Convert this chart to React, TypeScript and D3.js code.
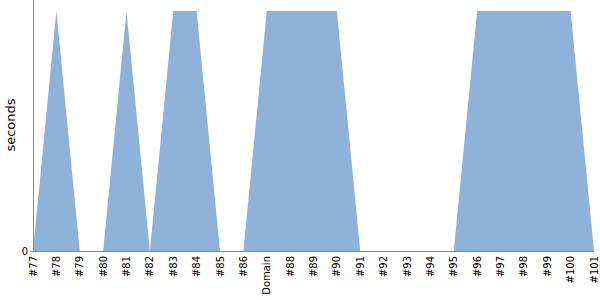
import React from "react";
import * as d3 from "d3";

const categories = ["#77","#78","#79","#80","#81","#82","#83","#84","#85","#86","Domain","#88","#89","#90","#91","#92","#93","#94","#95","#96","#97","#98","#99","#100","#101"];
const values = [0,1,0,0,1,0,1,1,0,0,1,1,1,1,0,0,0,0,0,1,1,1,1,1,0];
const yTicks = [0];

const W = 600, H = 300;
const left = 33, right = 594, top = 0, bottom = 251;

export default function App() {
  const x = d3.scalePoint<string>().domain(categories).range([left, right]);
  const y = d3.scaleLinear().domain([0, 1.046]).range([bottom, top]);
  const area = d3.area<number>()
    .x((_, i) => x(categories[i]) as number)
    .y0(y(0))
    .y1((d) => y(d));
  const font = "DejaVu Sans";
  return (
    <svg width={W} height={H} style={{ position: "absolute", left: 0, top: 0, fontFamily: font }}>
      <path d={area(values) || ""} fill="#8eb1da" />
      <line x1={left} x2={left} y1={top} y2={bottom} stroke="#888" strokeWidth={1} shapeRendering="crispEdges" />
      <line x1={left} x2={right} y1={bottom} y2={bottom} stroke="#888" strokeWidth={1} shapeRendering="crispEdges" />
      {yTicks.map((t) => (
        <g key={t}>
          <line x1={left - 3} x2={left} y1={y(t)} y2={y(t)} stroke="#888" shapeRendering="crispEdges" />
          <text x={left - 5} y={y(t)} dy="0.35em" textAnchor="end" style={{ fontFamily: font, fontSize: 10 }} fill="#000">{t}</text>
        </g>
      ))}
      {categories.map((c) => (
        <text key={c} transform={`translate(${(x(c) as number) + 3.5},${bottom + 5}) rotate(-90)`} textAnchor="end" style={{ fontFamily: font, fontSize: 10 }} fill="#000">{c}</text>
      ))}
      <text transform={`translate(15,125) rotate(-90)`} textAnchor="middle" style={{ fontFamily: font, fontSize: 13 }} fill="#000">seconds</text>
    </svg>
  );
}
